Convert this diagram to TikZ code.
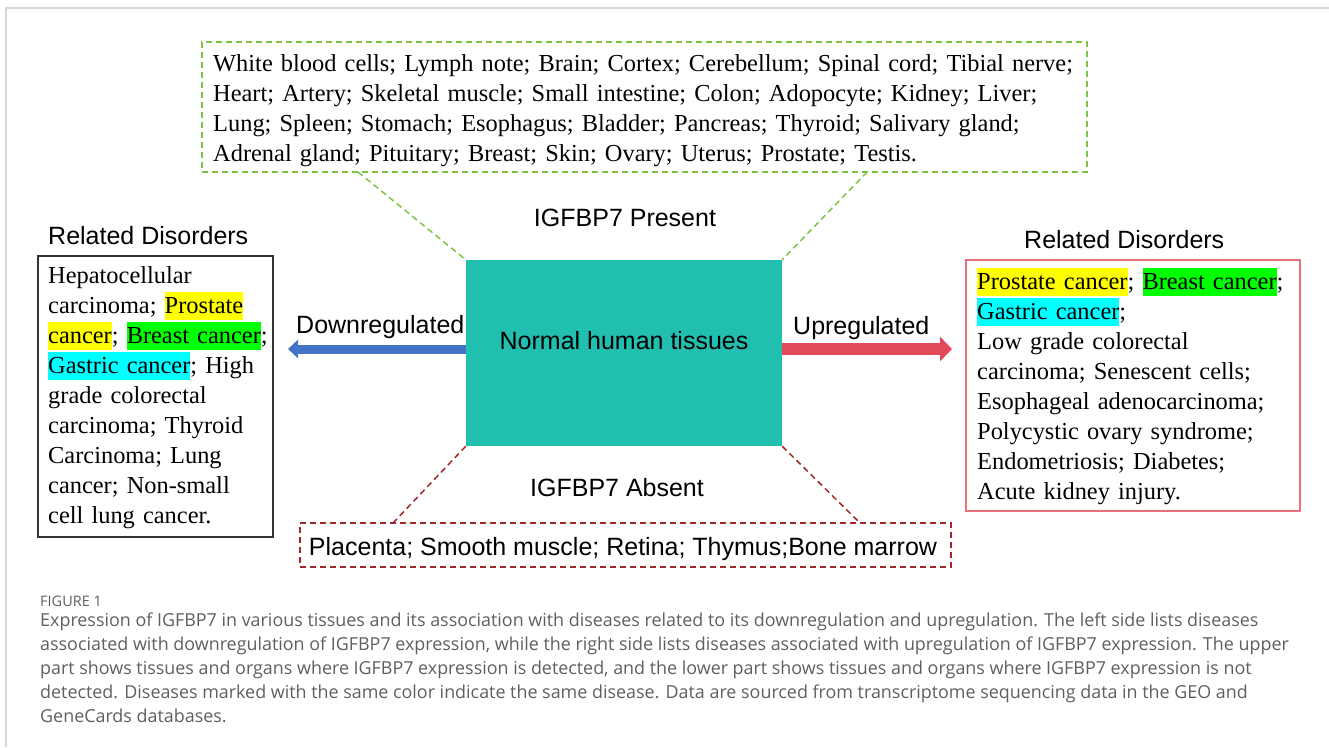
\documentclass[tikz,border=0pt]{standalone}
\usepackage{fontspec}
\setmainfont{Liberation Serif}
\newfontfamily\arialf{Liberation Sans}
\newfontfamily\capf{Open Sans}
\usetikzlibrary{arrows.meta}
\definecolor{tealbox}{RGB}{32,191,176}
\definecolor{dgreen}{RGB}{125,196,66}
\definecolor{dred}{RGB}{160,40,45}
\definecolor{ublue}{RGB}{68,114,196}
\definecolor{ured}{RGB}{226,74,90}
\definecolor{rbox}{RGB}{232,112,122}
\definecolor{framegray}{RGB}{215,215,215}
\definecolor{capgray}{RGB}{95,95,95}
\definecolor{hly}{RGB}{255,255,0}
\definecolor{hlg}{RGB}{0,255,0}
\definecolor{hlc}{RGB}{0,255,255}
\newcommand{\hlt}[2]{{\setlength{\fboxsep}{0pt}\colorbox{#1}{\rule[-7pt]{0pt}{28pt}#2}}}
\newcommand{\fst}{\rule{0pt}{21pt}}
\begin{document}
\begin{tikzpicture}[x=1pt,y=-1pt,
  serif/.style={font=\fontsize{24.4}{30}\selectfont, align=left, inner sep=0pt, anchor=north west},
  sans/.style={font=\arialf\fontsize{25}{30}\selectfont, inner sep=0pt},
  gdash/.style={draw=dgreen, line width=1.5pt, dash pattern=on 6pt off 4pt},
  rdash/.style={draw=dred, line width=1.5pt, dash pattern=on 6pt off 4pt}]
\useasboundingbox (0,0) rectangle (1329,747);
% frame
\draw[framegray, line width=2pt] (6,747) -- (6,8) -- (1329,8);

% top box
\node[gdash, minimum width=885pt, minimum height=130pt, inner sep=0] (topbox) at (644.5,107) {};
\node[serif, text width=880pt] (toptext) at (213,50) {\fst White blood cells; Lymph note; Brain; Cortex; Cerebellum; Spinal cord; Tibial nerve;\\Heart; Artery; Skeletal muscle; Small intestine; Colon; Adopocyte; Kidney; Liver;\\Lung; Spleen; Stomach; Esophagus; Bladder; Pancreas; Thyroid; Salivary gland;\\Adrenal gland; Pituitary; Breast; Skin; Ovary; Uterus; Prostate; Testis.};

\node[sans, anchor=base] (present) at (625,226) {IGFBP7 Present};

% center
\node[fill=tealbox, minimum width=316pt, minimum height=186pt, inner sep=0] (teal) at (624,353) {};
\node[sans, anchor=base] (normal) at (624,349) {Normal human tissues};

\coordinate (g1) at (358,172);
\coordinate (g2) at (867,172);
\draw[gdash] (g1) -- (teal.north west);
\draw[gdash] (g2) -- (teal.north east);

% left
\node[sans, anchor=base west] (lrel) at (48,244) {Related Disorders};
\node[draw=black!80, line width=1.5pt, minimum width=235pt, minimum height=281pt, inner sep=0] (lbox) at (155.5,396.5) {};
\node[serif, text width=300pt] (ltext) at (48,262) {\fst Hepatocellular\\carcinoma; \hlt{hly}{Prostate}\\\hlt{hly}{cancer}; \hlt{hlg}{Breast cancer};\\\hlt{hlc}{Gastric cancer}; High\\grade colorectal\\carcinoma; Thyroid\\Carcinoma; Lung\\cancer; Non-small\\cell lung cancer.};

\node[sans, anchor=base west] (down) at (296,333) {Downregulated};
\coordinate (dtip) at (288,349);
\draw[ublue, line width=9pt, -{Triangle[length=10pt,width=18pt]}] ([yshift=4pt]teal.west) -- (dtip);

% right
\node[sans, anchor=base west] (rrel) at (1024,248) {Related Disorders};
\node[draw=rbox, line width=1.5pt, minimum width=334pt, minimum height=251pt, inner sep=0] (rbox) at (1133,385.5) {};
\node[serif, text width=330pt] (rtext) at (977,268) {\fst\hlt{hly}{Prostate cancer}; \hlt{hlg}{Breast cancer};\\\hlt{hlc}{Gastric cancer};\\Low grade colorectal\\carcinoma; Senescent cells;\\Esophageal adenocarcinoma;\\Polycystic ovary syndrome;\\Endometriosis; Diabetes;\\Acute kidney injury.};

\node[sans, anchor=base west] (up) at (793,334) {Upregulated};
\coordinate (utip) at (952,349);
\draw[ured, line width=12pt, -{Triangle[length=12pt,width=24pt]}] ([yshift=4pt]teal.east) -- (utip);

% bottom
\node[sans, anchor=base] (absent) at (617,496) {IGFBP7 Absent};
\node[rdash, minimum width=651pt, minimum height=44pt, inner sep=0] (botbox) at (625.5,545) {};
\node[sans, anchor=base] (bottext) at (623,555) {Placenta; Smooth muscle; Retina; Thymus;Bone marrow};
\coordinate (r1) at (393,523);
\coordinate (r2) at (860,523);
\draw[rdash] (teal.south west) -- (r1);
\draw[rdash] (teal.south east) -- (r2);

% caption
\node[font=\capf\fontsize{14.5}{16}\selectfont, text=capgray, anchor=base west, inner sep=0] (figlab) at (40,606) {FIGURE 1};
\node[font=\capf\fontsize{17.9}{24}\selectfont, text=capgray, align=left, anchor=north west, inner sep=0] (cap) at (40,608) {\rule{0pt}{18pt}Expression of IGFBP7 in various tissues and its association with diseases related to its downregulation and upregulation. The left side lists diseases\\associated with downregulation of IGFBP7 expression, while the right side lists diseases associated with upregulation of IGFBP7 expression. The upper\\part shows tissues and organs where IGFBP7 expression is detected, and the lower part shows tissues and organs where IGFBP7 expression is not\\detected. Diseases marked with the same color indicate the same disease. Data are sourced from transcriptome sequencing data in the GEO and\\GeneCards databases.};
\end{tikzpicture}
\end{document}
